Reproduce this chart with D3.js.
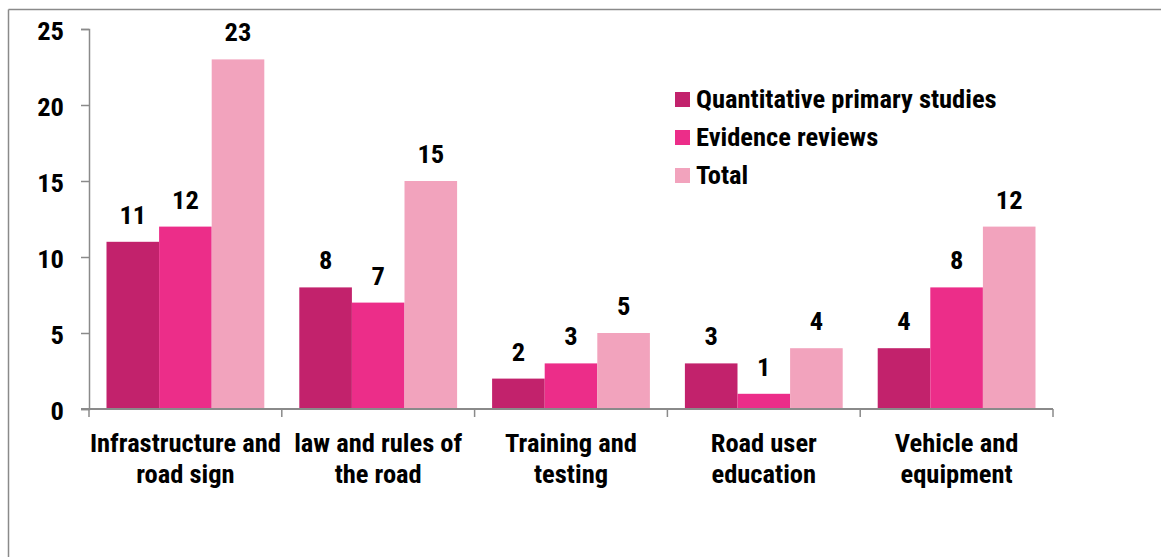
<!DOCTYPE html>
<html>
<head>
<meta charset="utf-8">
<script src="https://cdn.jsdelivr.net/npm/d3@7"></script>
<style>
  body { margin: 0; background: #fff; }
  text { font-family: "Liberation Sans Narrow", "Roboto Condensed", "Liberation Sans", sans-serif; font-weight: bold; fill: #000; }
</style>
</head>
<body>
<script>
var categories = [
    ['Infrastructure and', 'road sign'],
    ['law and rules of', 'the road'],
    ['Training and', 'testing'],
    ['Road user', 'education'],
    ['Vehicle and', 'equipment']
];
var seriesNames = ['Quantitative primary studies', 'Evidence reviews', 'Total'];
var quantitative = [11, 8, 2, 3, 4];
var reviews = [12, 7, 3, 1, 8];
var total = [23, 15, 5, 4, 12];
var yTicks = [0, 5, 10, 15, 20, 25];

var series = [quantitative, reviews, total];
var colors = ['#C2226C', '#EC2D89', '#F2A3BD'];

var scr = { w: 1161, h: 557 };
var plot = { left: 89, right: 1053, top: 29, bottom: 409 };
var fontSize = 26.5;

var svg = d3.select('body').append('svg')
    .attr('width', scr.w)
    .attr('height', scr.h);

// frame (only top and left edges show)
svg.append('line')
    .attr('x1', 8.5).attr('x2', scr.w).attr('y1', 9.5).attr('y2', 9.5)
    .attr('stroke', '#8a8a8a').attr('stroke-width', 1.5);
svg.append('line')
    .attr('x1', 8.5).attr('x2', 8.5).attr('y1', 9.5).attr('y2', scr.h)
    .attr('stroke', '#8a8a8a').attr('stroke-width', 1.5);

var idx = d3.range(categories.length);
var x0 = d3.scaleBand()
    .domain(idx)
    .range([plot.left, plot.right]);
var x1 = d3.scaleBand()
    .domain(d3.range(series.length))
    .range([17.5, x0.bandwidth() - 17.5]);
var y = d3.scaleLinear()
    .domain([0, 25])
    .range([plot.bottom, plot.top]);

// bars
var groups = svg.selectAll('g.cat')
    .data(idx)
    .enter()
    .append('g')
    .classed('cat', true)
    .attr('transform', function(i) { return 'translate(' + x0(i) + ',0)'; });

groups.selectAll('rect')
    .data(function(i) {
        return series.map(function(s, k) { return { k: k, v: s[i] }; });
    })
    .enter()
    .append('rect')
    .attr('x', function(d) { return x1(d.k); })
    .attr('y', function(d) { return y(d.v); })
    .attr('width', x1.bandwidth())
    .attr('height', function(d) { return y(0) - y(d.v); })
    .attr('fill', function(d) { return colors[d.k]; });

groups.selectAll('text.val')
    .data(function(i) {
        return series.map(function(s, k) { return { k: k, v: s[i] }; });
    })
    .enter()
    .append('text')
    .classed('val', true)
    .attr('x', function(d) { return x1(d.k) + x1.bandwidth() / 2; })
    .attr('y', function(d) { return y(d.v) - 18; })
    .attr('text-anchor', 'middle')
    .attr('font-size', fontSize)
    .text(function(d) { return d.v; });

// y axis
var yAxis = d3.axisLeft(y).tickValues(yTicks).tickSize(8).tickPadding(17);
var ya = svg.append('g')
    .attr('transform', 'translate(' + plot.left + ',0)')
    .call(yAxis);
ya.attr('font-family', null).attr('font-size', null);
ya.select('.domain').attr('stroke', '#8a8a8a').attr('stroke-width', 1.5);
ya.selectAll('.tick line').attr('stroke', '#8a8a8a').attr('stroke-width', 1.5);
ya.selectAll('.tick text').attr('font-size', fontSize).attr('dy', '0.4em');

// x axis
var xa = svg.append('g');
xa.append('line')
    .attr('x1', plot.left - 8).attr('x2', plot.right)
    .attr('y1', plot.bottom).attr('y2', plot.bottom)
    .attr('stroke', '#8a8a8a').attr('stroke-width', 2);
xa.selectAll('line.tk')
    .data(d3.range(categories.length + 1))
    .enter()
    .append('line')
    .classed('tk', true)
    .attr('x1', function(i) { return plot.left + i * x0.step(); })
    .attr('x2', function(i) { return plot.left + i * x0.step(); })
    .attr('y1', plot.bottom).attr('y2', plot.bottom + 8)
    .attr('stroke', '#8a8a8a').attr('stroke-width', 1.5);

var labels = xa.selectAll('text.cat')
    .data(idx)
    .enter()
    .append('text')
    .classed('cat', true)
    .attr('text-anchor', 'middle')
    .attr('font-size', fontSize);
labels.selectAll('tspan')
    .data(function(i) { return categories[i].map(function(t) { return { t: t, i: i }; }); })
    .enter()
    .append('tspan')
    .attr('x', function(d) { return x0(d.i) + x0.bandwidth() / 2; })
    .attr('y', function(d, j) { return 452 + j * 31; })
    .text(function(d) { return d.t; });

// legend
var legend = svg.append('g')
    .attr('transform', 'translate(675,100)');
var items = legend.selectAll('g')
    .data(seriesNames)
    .enter()
    .append('g')
    .attr('transform', function(d, i) { return 'translate(0,' + i * 38 + ')'; });
items.append('rect')
    .attr('x', 0).attr('y', -8)
    .attr('width', 15).attr('height', 15)
    .attr('fill', function(d, i) { return colors[i]; });
items.append('text')
    .attr('x', 21).attr('y', 7.5)
    .attr('font-size', fontSize)
    .text(function(d) { return d; });
</script>
</body>
</html>
